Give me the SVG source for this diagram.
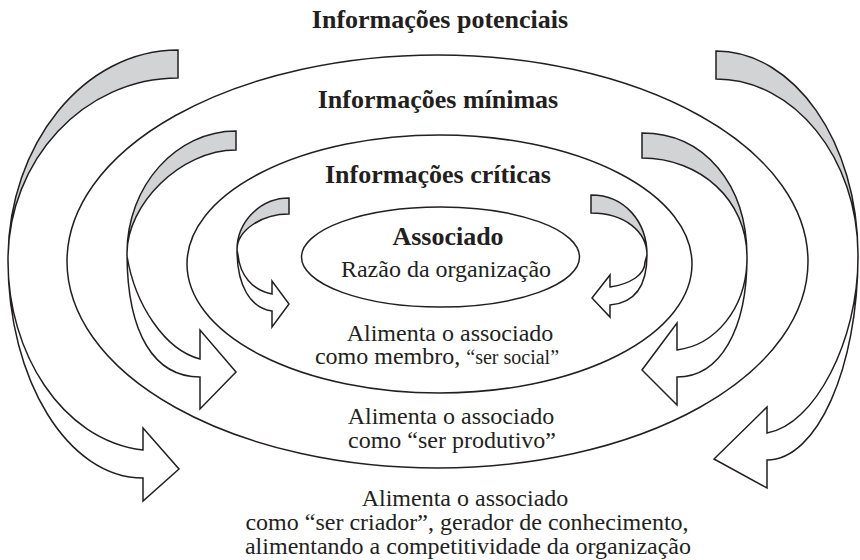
<svg xmlns="http://www.w3.org/2000/svg" width="860" height="560" viewBox="0 0 860 560">
<style>
.ring{fill:none;stroke:#231f20;stroke-width:1.5}
.back{fill:#d1d3d4;stroke:#231f20;stroke-width:1.5;stroke-linejoin:miter}
.front{fill:#ffffff;stroke:#231f20;stroke-width:1.5;stroke-linejoin:miter}
text{font-family:"Liberation Serif","Times New Roman",serif;fill:#231f20;text-anchor:middle}
.title{font-weight:bold;font-size:26px}
.lbl{font-size:24px}
.sm{font-size:20px}
</style>
<rect width="860" height="560" fill="#ffffff"/>
<g id="potenciais">
<text class="title" x="440" y="28">Informações potenciais</text>
</g>
<g id="minimas">
<ellipse class="ring" cx="437.5" cy="261.5" rx="370.5" ry="206.5"/>
<text class="title" x="438" y="108">Informações mínimas</text>
</g>
<g id="criticas">
<ellipse class="ring" cx="439.5" cy="264" rx="252.5" ry="129"/>
<text class="title" x="438" y="183">Informações críticas</text>
</g>
<g id="associado">
<ellipse class="ring" cx="440.5" cy="257" rx="139" ry="50"/>
<text class="title" x="448" y="245">Associado</text>
<text class="lbl" x="446" y="277">Razão da organização</text>
</g>
<g id="texto-social">
<text class="lbl" x="450" y="341">Alimenta o associado</text>
<text class="lbl" x="437" y="364">como membro, <tspan class="sm">“ser social”</tspan></text>
</g>
<g id="texto-produtivo">
<text class="lbl" x="451" y="424">Alimenta o associado</text>
<text class="lbl" x="452" y="448">como “ser produtivo”</text>
</g>
<g id="texto-criador">
<text class="lbl" x="465" y="506">Alimenta o associado</text>
<text class="lbl" x="467" y="530">como “ser criador”, gerador de conhecimento,</text>
<text class="lbl" x="468" y="554">alimentando a competitividade da organização</text>
</g>
<g id="connectors">
<g id="arrow-outer-left">
<path class="back" d="M178,50 C84,50 8,144 8,260 C8,160 84,78 178,78 Z"/>
<path class="front" d="M8,260 C8,380 68,478 143,478 L143,501 L179,469 L143,428 L143,450 C60,440 8,350 8,262 Z"/>
</g>
<g id="arrow-outer-right">
<path class="back" d="M716,51 C794,51 858,142 858,255 C858,158 794,79 716,79 Z"/>
<path class="front" d="M858,255 C858,368 817,460 767,460 L767,488 L714,459 L767,407 L767,433 C815,425 858,340 858,258 Z"/>
</g>
<g id="arrow-mid-left">
<path class="back" d="M236,131 C176,131 127,186 127,253 C127,205 180,150 236,150 Z"/>
<path class="front" d="M127,253 C127,335 155,377 200,377 L200,409 L236,372 L200,330 L200,359 C165,350 135,305 127,256 Z"/>
</g>
<g id="arrow-mid-right">
<path class="back" d="M642,133 C705,133 747,185 747,257 C747,200 700,158 642,158 Z"/>
<path class="front" d="M747,257 C747,330 720,377 677,377 L677,405 L642,370 L677,323 L677,350 C715,345 745,310 747,262 Z"/>
</g>
<g id="arrow-inner-left">
<path class="back" d="M289,198 C260,198 237,222 237,250 C237,230 262,214 289,214 Z"/>
<path class="front" d="M237,250 C237,285 250,308 272,311 L272,327 L289,304 L272,281 L272,294 C252,290 240,275 238,255 Z"/>
</g>
<g id="arrow-inner-right">
<path class="back" d="M591,195 C625,195 647,222 647,255 C647,232 625,213 591,213 Z"/>
<path class="front" d="M647,255 C647,285 635,303 610,305 L610,317 L592,298 L610,275 L610,287 C630,284 645,275 645,262 Z"/>
</g>
</g>
</svg>
